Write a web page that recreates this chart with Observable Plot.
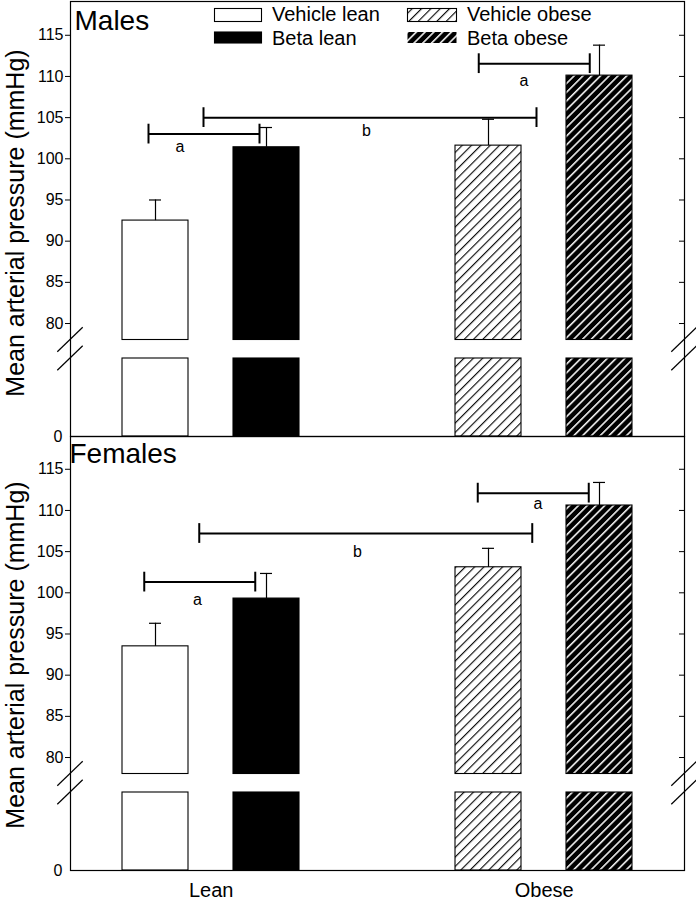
<!DOCTYPE html>
<html><head><meta charset="utf-8">
<script src="https://cdn.jsdelivr.net/npm/d3@7"></script>
<script src="https://cdn.jsdelivr.net/npm/@observablehq/plot@0.6"></script>
<style>
body{margin:0;background:#fff;}
#fig{position:relative;width:696px;height:901px;overflow:hidden;font-family:Arial,"Liberation Sans",sans-serif;}
#fig svg{position:absolute;left:0;background:transparent;}
</style></head><body><div id="fig"></div>
<script>
// ---- data ----
const categories = ["Vehicle lean", "Beta lean", " ", "Vehicle obese", "Beta obese"];
const treatments = ["Vehicle lean", "Beta lean", "Vehicle obese", "Beta obese"];
const groups = ["Lean", "Obese"];
const groupFirst = ["Vehicle lean", "Vehicle obese"];
const panels = ["Males", "Females"];
const malesMean = [92.5, 101.4, 101.6, 110.1];
const malesErr = [2.5, 2.4, 3.2, 3.7];
const femalesMean = [93.5, 99.3, 103.1, 110.6];
const femalesErr = [2.8, 3.05, 2.3, 2.8];
const yTicks = [80, 85, 90, 95, 100, 105, 110, 115];
const zeroTick = [0];
const breakUpper = 78;   // upper segment starts here
const breakLower = 20;   // lower segment ends here
const yTop = 119.1;
const bracketLabels = ["a", "b", "a"];
const bracketFrom = ["Vehicle lean", "Vehicle lean", "Vehicle obese"];
const bracketTo = ["Beta lean", "Vehicle obese", "Beta obese"];
const malesBracketY = [103.0, 105.0, 111.55];
const femalesBracketY = [101.3, 107.2, 112.1];
const malesLabelY = [101.4, 103.4, 109.5];
const femalesLabelY = [99.1, 105.0, 110.75];
const capHalf = 1.2;

// ---- styles ----
const FONT = "Arial, 'Liberation Sans', sans-serif";
const bracketShift = {Males: [-7, 48, -9.75], Females: [-11.25, 43.75, -10.75]};
const labelShift = {Males: [24.5, 211, 35.5], Females: [42, 202, 49.5]};
const titleShift = {Males: [4, 9], Females: [-1, 6.5]};
const ytitleDy = {Males: 4, Females: 1.5};
const HV = 6.6, HB = 6.2;

function addPatterns(defs, id) {
  const p1 = defs.append("pattern").attr("id", "hv-" + id).attr("patternUnits", "userSpaceOnUse")
    .attr("width", HV).attr("height", HV).attr("patternTransform", "rotate(45)");
  p1.append("rect").attr("width", HV).attr("height", HV).attr("fill", "white");
  p1.append("line").attr("x1", 0.6).attr("y1", 0).attr("x2", 0.6).attr("y2", HV).attr("stroke", "black").attr("stroke-width", 1.1);
  const p2 = defs.append("pattern").attr("id", "hb-" + id).attr("patternUnits", "userSpaceOnUse")
    .attr("width", HB).attr("height", HB).attr("patternTransform", "rotate(45)");
  p2.append("rect").attr("width", HB).attr("height", HB).attr("fill", "black");
  p2.append("line").attr("x1", 0.8).attr("y1", 0).attr("x2", 0.8).attr("y2", HB).attr("stroke", "white").attr("stroke-width", 1.5);
}

function patternDefs(id) {
  return () => {
    const g = d3.create("svg:g");
    addPatterns(g.append("defs"), id);
    return g.node();
  };
}

function breakMarks() {
  return (index, scales, values, dimensions) => {
    const g = d3.create("svg:g").attr("stroke", "black").attr("stroke-width", 1.2);
    const xs = [dimensions.marginLeft, dimensions.width - dimensions.marginRight];
    const ys = [scales.y(breakUpper), scales.y(breakLower)];
    for (const x of xs) for (const y of ys)
      g.append("line").attr("x1", x - 12.7).attr("y1", y + 12.3).attr("x2", x + 12.7).attr("y2", y - 12.3);
    return g.node();
  };
}

function panel(name, means, errs, bracketY, labelY, isBottom) {
  const rows = treatments.map((t, i) => ({treatment: t, mean: means[i], top: means[i] + errs[i]}));
  const brackets = bracketLabels.map((l, i) => ({label: l, from: bracketFrom[i], to: bracketTo[i], y: bracketY[i], ly: labelY[i]}));
  const height = isBottom ? 467 : 437;
  const marks = [
    patternDefs(name),
    Plot.barY(rows, {x: "treatment", y1: 0, y2: breakLower, fill: "treatment", stroke: "black", strokeWidth: 1.1}),
    Plot.barY(rows, {x: "treatment", y1: breakUpper, y2: "mean", fill: "treatment", stroke: "black", strokeWidth: 1.1}),
    Plot.ruleX(rows, {x: "treatment", y1: "mean", y2: "top", stroke: "black", strokeWidth: 1.2}),
    Plot.tickY(rows, {x: "treatment", y: "top", insetLeft: 27, insetRight: 27, stroke: "black", strokeWidth: 1.2}),
    Plot.frame({stroke: "black", strokeWidth: 1.2}),
    Plot.axisY({ticks: yTicks, anchor: "left", tickSize: 5, tickPadding: 2, fontSize: 16, label: null}),
    Plot.axisY({ticks: zeroTick, anchor: "left", tickSize: 0, tickPadding: 8, fontSize: 16, label: null}),
    Plot.axisY({ticks: yTicks, anchor: "right", tickSize: -6, tickFormat: () => "", label: null}),
    breakMarks(),
    Plot.text([name], {frameAnchor: "top-left", text: d => d, fontSize: 28, lineAnchor: "top", textAnchor: "start",
      dx: titleShift[name][0], dy: titleShift[name][1]}),
    Plot.text(["Mean arterial pressure (mmHg)"], {frameAnchor: "left", text: d => d, rotate: -90, fontSize: 25,
      lineAnchor: "bottom", textAnchor: "middle", dx: -46.5, dy: ytitleDy[name]})
  ];
  brackets.forEach((b, i) => {
    const dx = bracketShift[name][i];
    marks.push(Plot.link([b], {x1: "from", x2: "to", y1: "y", y2: "y", stroke: "black", strokeWidth: 2, dx}));
    marks.push(Plot.ruleX([b], {x: "from", y1: d => d.y - capHalf, y2: d => d.y + capHalf, stroke: "black", strokeWidth: 2, dx}));
    marks.push(Plot.ruleX([b], {x: "to", y1: d => d.y - capHalf, y2: d => d.y + capHalf, stroke: "black", strokeWidth: 2, dx}));
    marks.push(Plot.text([b], {x: "from", y: "ly", text: "label", fontSize: 16, dx: labelShift[name][i]}));
  });
  if (isBottom) {
    const g = groups.map((gname, i) => ({group: gname, first: groupFirst[i]}));
    marks.push(Plot.text(g, {x: "first", text: "group", frameAnchor: "bottom", lineAnchor: "bottom", fontSize: 20, dx: 55.75, dy: 26}));
  }
  return Plot.plot({
    width: 696, height,
    marginLeft: 70, marginRight: 12, marginTop: isBottom ? 2 : 1, marginBottom: isBottom ? 31 : 1,
    style: {fontFamily: FONT, fontSize: "16px", color: "black", background: "transparent", overflow: "visible"},
    x: {type: "band", domain: categories, paddingInner: 0.408, paddingOuter: 0.4573, axis: null},
    y: {type: "linear", domain: [0, breakLower, breakUpper, yTop], range: [436, 358, 339.5, 1], axis: null},
    color: {type: "ordinal", domain: treatments, range: ["white", "black", `url(#hv-${name})`, `url(#hb-${name})`]},
    marks
  });
}

const fig = document.getElementById("fig");
const topPanel = panel(panels[0], malesMean, malesErr, malesBracketY, malesLabelY, false);
topPanel.style.top = "0px";
fig.appendChild(topPanel);
const bottomPanel = panel(panels[1], femalesMean, femalesErr, femalesBracketY, femalesLabelY, true);
bottomPanel.style.top = "434px";
fig.appendChild(bottomPanel);

// ---- legend (inside the Males panel) ----
const legendItems = treatments;
const legend = d3.create("svg").attr("width", 696).attr("height", 60).style("top", "0px")
  .attr("font-family", FONT).attr("font-size", 20);
addPatterns(legend.append("defs"), "legend");
const legendFill = ["white", "black", "url(#hv-legend)", "url(#hb-legend)"];
const legendStroke = ["black", "black", "black", "none"];
const colX = [214, 407], colW = [47, 49], rowY = [8, 31.5], rowH = [13, 11], textBase = [20.5, 45];
legendItems.forEach((label, i) => {
  const c = i < 2 ? 0 : 1, r = i % 2;
  legend.append("rect").attr("x", colX[c] + 0.5).attr("y", rowY[r] + 0.5).attr("width", colW[c]).attr("height", rowH[r])
    .attr("fill", legendFill[i]).attr("stroke", legendStroke[i]).attr("stroke-width", 1.1);
  legend.append("text").attr("x", colX[c] + colW[c] + 11).attr("y", textBase[r]).text(label);
});
fig.appendChild(legend.node());
</script></body></html>
